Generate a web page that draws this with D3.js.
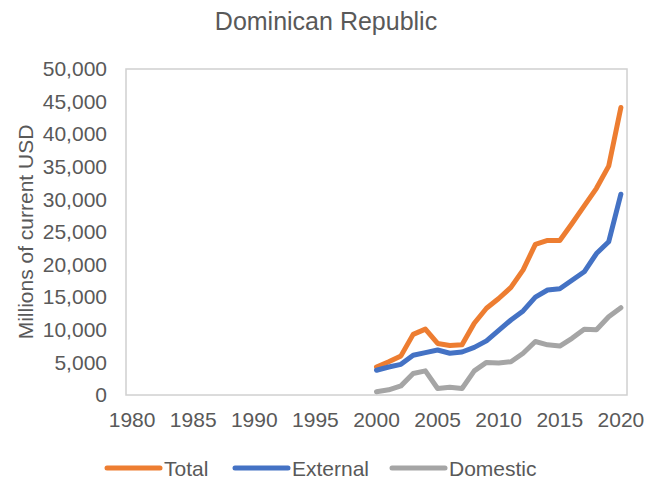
<!DOCTYPE html>
<html>
<head>
<meta charset="utf-8">
<script src="https://cdn.jsdelivr.net/npm/d3@7"></script>
<style>
  html, body { margin: 0; padding: 0; background: #fff; }
  text { font-family: "Liberation Sans", Arial, sans-serif; fill: #595959; }
</style>
</head>
<body>
<svg id="chart" width="659" height="478"></svg>
<script>
const years = d3.range(1980, 2021);
const totalValues = [null,null,null,null,null,null,null,null,null,null,
  null,null,null,null,null,null,null,null,null,null,
  4300, 5100, 6000, 9300, 10100, 7900, 7600, 7700, 11000, 13300,
  14800, 16500, 19200, 23100, 23700, 23700, 26300, 29000, 31700, 35100, 44100];
const externalValues = [null,null,null,null,null,null,null,null,null,null,
  null,null,null,null,null,null,null,null,null,null,
  3800, 4300, 4700, 6100, 6500, 6900, 6400, 6600, 7300, 8300,
  9900, 11500, 12900, 15000, 16100, 16300, 17600, 18900, 21700, 23500, 30800];
const domesticValues = [null,null,null,null,null,null,null,null,null,null,
  null,null,null,null,null,null,null,null,null,null,
  500, 800, 1400, 3300, 3700, 1000, 1200, 1000, 3700, 5000,
  4900, 5100, 6400, 8200, 7700, 7500, 8700, 10100, 10000, 12000, 13400];
const yTicks = [0, 5000, 10000, 15000, 20000, 25000, 30000, 35000, 40000, 45000, 50000];
const xTickLabels = [1980, 1985, 1990, 1995, 2000, 2005, 2010, 2015, 2020];
const seriesNames = ["Total", "External", "Domestic"];
const seriesColors = ["#ED7D31", "#4472C4", "#A5A5A5"];

const svg = d3.select("#chart");
const margin = {left: 126, right: 32, top: 69, bottom: 83};
const W = 659, H = 478;
const x = d3.scaleBand().domain(years).range([margin.left, W - margin.right]);
const y = d3.scaleLinear().domain([0, 50000]).range([H - margin.bottom, margin.top]);
const FONT = "'Liberation Sans', Arial, sans-serif";

// plot border
svg.append("rect")
  .attr("x", margin.left).attr("y", margin.top)
  .attr("width", W - margin.right - margin.left)
  .attr("height", H - margin.bottom - margin.top)
  .attr("fill", "none").attr("stroke", "#D0D0D0").attr("stroke-width", 1.5);

// title
svg.append("text").attr("x", 326).attr("y", 30).attr("text-anchor", "middle")
  .style("font-size", "25px").text("Dominican Republic");

// y axis
const yAxis = d3.axisLeft(y).tickValues(yTicks).tickSize(0).tickPadding(0)
  .tickFormat(d3.format(","));
const gy = svg.append("g").attr("transform", `translate(${margin.left - 19},0)`).call(yAxis);
gy.select(".domain").remove();
gy.selectAll("text").style("font-size", "21px").attr("fill", "#595959")
  .style("font-family", FONT);

// x axis
const xAxis = d3.axisBottom(x).tickValues(xTickLabels).tickSize(0).tickPadding(0);
const gx = svg.append("g").attr("transform", `translate(0,${H - margin.bottom + 17})`).call(xAxis);
gx.select(".domain").remove();
gx.selectAll("text").style("font-size", "21px").attr("fill", "#595959")
  .style("font-family", FONT);

// y title
svg.append("text")
  .attr("transform", `translate(33,${(margin.top + H - margin.bottom) / 2}) rotate(-90)`)
  .attr("text-anchor", "middle").style("font-size", "21px").text("Millions of current USD");

// lines
const data = [totalValues, externalValues, domesticValues];
const line = d3.line()
  .defined(d => d != null)
  .x((d, i) => x(years[i]) + x.bandwidth() / 2)
  .y(d => y(d));
data.forEach((vals, k) => {
  svg.append("path").datum(vals)
    .attr("fill", "none").attr("stroke", seriesColors[k])
    .attr("stroke-width", 5).attr("stroke-linejoin", "round").attr("stroke-linecap", "round")
    .attr("d", line);
});

// legend
const legendX = [107, 235, 392];
const legendY = 468;
seriesNames.forEach((name, k) => {
  const g = svg.append("g").attr("transform", `translate(${legendX[k]},${legendY})`);
  g.append("line").attr("x1", 0).attr("x2", 53).attr("y1", 0).attr("y2", 0)
    .attr("stroke", seriesColors[k]).attr("stroke-width", 5).attr("stroke-linecap", "round");
  g.append("text").attr("x", 57).attr("y", 7.5).style("font-size", "21px").text(name);
});
</script>
</body>
</html>
